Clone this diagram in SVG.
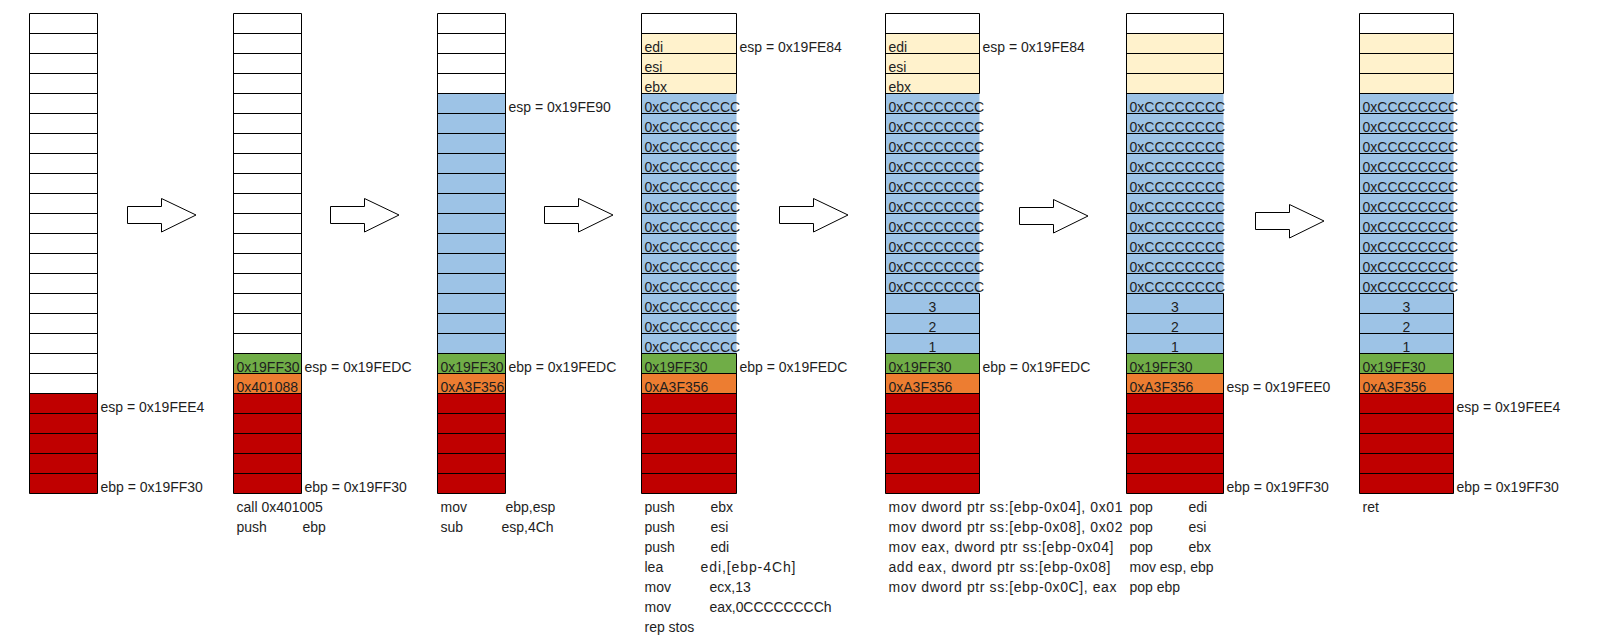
<svg xmlns="http://www.w3.org/2000/svg" xmlns:xlink="http://www.w3.org/1999/xlink" width="1602" height="641" viewBox="0 0 1602 641">
<style>
text{font-family:"Liberation Sans",Arial,sans-serif;font-size:14px;fill:#1e1e1e}
.c{text-anchor:middle}
.w{fill:#fff}.y{fill:#FFF2CC}.b{fill:#9DC3E6}.g{fill:#70AD47}.o{fill:#ED7D31}.r{fill:#C00000}
.grid{fill:none;stroke:#000;stroke-width:1}
.arrow{fill:#fff;stroke:#000;stroke-width:1}
</style>
<defs>
<path id="h68" d="M0 13.5h68M0 33.5h68M0 53.5h68M0 73.5h68M0 93.5h68M0 113.5h68M0 133.5h68M0 153.5h68M0 173.5h68M0 193.5h68M0 213.5h68M0 233.5h68M0 253.5h68M0 273.5h68M0 293.5h68M0 313.5h68M0 333.5h68M0 353.5h68M0 373.5h68M0 393.5h68M0 413.5h68M0 433.5h68M0 453.5h68M0 473.5h68M0 493.5h68"/>
<path id="h95" d="M0 13.5h95M0 33.5h95M0 53.5h95M0 73.5h95M0 93.5h95M0 113.5h95M0 133.5h95M0 153.5h95M0 173.5h95M0 193.5h95M0 213.5h95M0 233.5h95M0 253.5h95M0 273.5h95M0 293.5h95M0 313.5h95M0 333.5h95M0 353.5h95M0 373.5h95M0 393.5h95M0 413.5h95M0 433.5h95M0 453.5h95M0 473.5h95M0 493.5h95"/>
<path id="h94" d="M0 13.5h94M0 33.5h94M0 53.5h94M0 73.5h94M0 93.5h94M0 113.5h94M0 133.5h94M0 153.5h94M0 173.5h94M0 193.5h94M0 213.5h94M0 233.5h94M0 253.5h94M0 273.5h94M0 293.5h94M0 313.5h94M0 333.5h94M0 353.5h94M0 373.5h94M0 393.5h94M0 413.5h94M0 433.5h94M0 453.5h94M0 473.5h94M0 493.5h94"/>
<path id="h97" d="M0 13.5h97M0 33.5h97M0 53.5h97M0 73.5h97M0 93.5h97M0 113.5h97M0 133.5h97M0 153.5h97M0 173.5h97M0 193.5h97M0 213.5h97M0 233.5h97M0 253.5h97M0 273.5h97M0 293.5h97M0 313.5h97M0 333.5h97M0 353.5h97M0 373.5h97M0 393.5h97M0 413.5h97M0 433.5h97M0 453.5h97M0 473.5h97M0 493.5h97"/>
<path id="arr" d="M0.5 8.5H34.5V0.5L69 17L34.5 34V25.5H0.5Z"/>
</defs>
<rect width="1602" height="641" fill="#fff"/>

<g id="stack1">
<rect class="w" x="29.5" y="13.5" width="68" height="380"/>
<rect class="r" x="29.5" y="393.5" width="68" height="100"/>
<use href="#h68" x="29.5" class="grid"/>
<path class="grid" d="M29.5 13.5V493.5M97.5 13.5V493.5"/>
<text x="100.5" y="411.5">esp = 0x19FEE4</text>
<text x="100.5" y="491.5">ebp = 0x19FF30</text>
</g>

<g id="stack2">
<rect class="w" x="233.5" y="13.5" width="68" height="340"/>
<rect class="g" x="233.5" y="353.5" width="68" height="20"/>
<rect class="o" x="233.5" y="373.5" width="68" height="20"/>
<rect class="r" x="233.5" y="393.5" width="68" height="100"/>
<use href="#h68" x="233.5" class="grid"/>
<path class="grid" d="M233.5 13.5V493.5M301.5 13.5V493.5"/>
<text x="236.5" y="371.5">0x19FF30</text>
<text x="236.5" y="391.5">0x401088</text>
<text x="304.5" y="371.5">esp = 0x19FEDC</text>
<text x="304.5" y="491.5">ebp = 0x19FF30</text>
<text x="236.5" y="511.5">call 0x401005</text>
<text x="236.5" y="531.5">push</text><text x="302.5" y="531.5">ebp</text>
</g>

<g id="stack3">
<rect class="w" x="437.5" y="13.5" width="68" height="80"/>
<rect class="b" x="437.5" y="93.5" width="68" height="260"/>
<rect class="g" x="437.5" y="353.5" width="68" height="20"/>
<rect class="o" x="437.5" y="373.5" width="68" height="20"/>
<rect class="r" x="437.5" y="393.5" width="68" height="100"/>
<use href="#h68" x="437.5" class="grid"/>
<path class="grid" d="M437.5 13.5V493.5M505.5 13.5V493.5"/>
<text x="440.5" y="371.5">0x19FF30</text>
<text x="440.5" y="391.5">0xA3F356</text>
<text x="508.5" y="111.5">esp = 0x19FE90</text>
<text x="508.5" y="371.5">ebp = 0x19FEDC</text>
<text x="440.5" y="511.5">mov</text><text x="505.5" y="511.5">ebp,esp</text>
<text x="440.5" y="531.5">sub</text><text x="501.5" y="531.5">esp,4Ch</text>
</g>

<g id="stack4">
<rect class="w" x="641.5" y="13.5" width="95" height="20"/>
<rect class="y" x="641.5" y="33.5" width="95" height="60"/>
<rect class="b" x="641.5" y="93.5" width="95" height="260"/>
<rect class="g" x="641.5" y="353.5" width="95" height="20"/>
<rect class="o" x="641.5" y="373.5" width="95" height="20"/>
<rect class="r" x="641.5" y="393.5" width="95" height="100"/>
<use href="#h95" x="641.5" class="grid"/>
<path class="grid" d="M641.5 13.5V493.5M736.5 13.5V93.5M736.5 353.5V493.5"/>
<text x="644.5" y="51.5">edi</text>
<text x="644.5" y="71.5">esi</text>
<text x="644.5" y="91.5">ebx</text>
<text x="644.5" y="111.5">0xCCCCCCCC</text>
<text x="644.5" y="131.5">0xCCCCCCCC</text>
<text x="644.5" y="151.5">0xCCCCCCCC</text>
<text x="644.5" y="171.5">0xCCCCCCCC</text>
<text x="644.5" y="191.5">0xCCCCCCCC</text>
<text x="644.5" y="211.5">0xCCCCCCCC</text>
<text x="644.5" y="231.5">0xCCCCCCCC</text>
<text x="644.5" y="251.5">0xCCCCCCCC</text>
<text x="644.5" y="271.5">0xCCCCCCCC</text>
<text x="644.5" y="291.5">0xCCCCCCCC</text>
<text x="644.5" y="311.5">0xCCCCCCCC</text>
<text x="644.5" y="331.5">0xCCCCCCCC</text>
<text x="644.5" y="351.5">0xCCCCCCCC</text>
<text x="644.5" y="371.5">0x19FF30</text>
<text x="644.5" y="391.5">0xA3F356</text>
<text x="739.5" y="51.5">esp = 0x19FE84</text>
<text x="739.5" y="371.5">ebp = 0x19FEDC</text>
<text x="644.5" y="511.5">push</text><text x="710.5" y="511.5">ebx</text>
<text x="644.5" y="531.5">push</text><text x="710.5" y="531.5">esi</text>
<text x="644.5" y="551.5">push</text><text x="710.5" y="551.5">edi</text>
<text x="644.5" y="571.5">lea</text><text x="700.5" y="571.5" textLength="95" lengthAdjust="spacing">edi,[ebp-4Ch]</text>
<text x="644.5" y="591.5">mov</text><text x="709.5" y="591.5">ecx,13</text>
<text x="644.5" y="611.5">mov</text><text x="709.5" y="611.5" textLength="122" lengthAdjust="spacing">eax,0CCCCCCCCh</text>
<text x="644.5" y="631.5">rep stos</text>
</g>

<g id="stack5">
<rect class="w" x="885.5" y="13.5" width="94" height="20"/>
<rect class="y" x="885.5" y="33.5" width="94" height="60"/>
<rect class="b" x="885.5" y="93.5" width="94" height="260"/>
<rect class="g" x="885.5" y="353.5" width="94" height="20"/>
<rect class="o" x="885.5" y="373.5" width="94" height="20"/>
<rect class="r" x="885.5" y="393.5" width="94" height="100"/>
<use href="#h94" x="885.5" class="grid"/>
<path class="grid" d="M885.5 13.5V493.5M979.5 13.5V93.5M979.5 293.5V493.5"/>
<text x="888.5" y="51.5">edi</text>
<text x="888.5" y="71.5">esi</text>
<text x="888.5" y="91.5">ebx</text>
<text x="888.5" y="111.5">0xCCCCCCCC</text>
<text x="888.5" y="131.5">0xCCCCCCCC</text>
<text x="888.5" y="151.5">0xCCCCCCCC</text>
<text x="888.5" y="171.5">0xCCCCCCCC</text>
<text x="888.5" y="191.5">0xCCCCCCCC</text>
<text x="888.5" y="211.5">0xCCCCCCCC</text>
<text x="888.5" y="231.5">0xCCCCCCCC</text>
<text x="888.5" y="251.5">0xCCCCCCCC</text>
<text x="888.5" y="271.5">0xCCCCCCCC</text>
<text x="888.5" y="291.5">0xCCCCCCCC</text>
<text class="c" x="932.5" y="311.5">3</text>
<text class="c" x="932.5" y="331.5">2</text>
<text class="c" x="932.5" y="351.5">1</text>
<text x="888.5" y="371.5">0x19FF30</text>
<text x="888.5" y="391.5">0xA3F356</text>
<text x="982.5" y="51.5">esp = 0x19FE84</text>
<text x="982.5" y="371.5">ebp = 0x19FEDC</text>
<text x="888.5" y="511.5" textLength="234" lengthAdjust="spacing">mov dword ptr ss:[ebp-0x04], 0x01</text>
<text x="888.5" y="531.5" textLength="234" lengthAdjust="spacing">mov dword ptr ss:[ebp-0x08], 0x02</text>
<text x="888.5" y="551.5" textLength="225" lengthAdjust="spacing">mov eax, dword ptr ss:[ebp-0x04]</text>
<text x="888.5" y="571.5" textLength="222" lengthAdjust="spacing">add eax, dword ptr ss:[ebp-0x08]</text>
<text x="888.5" y="591.5" textLength="228" lengthAdjust="spacing">mov dword ptr ss:[ebp-0x0C], eax</text>
</g>

<g id="stack6">
<rect class="w" x="1126.5" y="13.5" width="97" height="20"/>
<rect class="y" x="1126.5" y="33.5" width="97" height="60"/>
<rect class="b" x="1126.5" y="93.5" width="97" height="260"/>
<rect class="g" x="1126.5" y="353.5" width="97" height="20"/>
<rect class="o" x="1126.5" y="373.5" width="97" height="20"/>
<rect class="r" x="1126.5" y="393.5" width="97" height="100"/>
<use href="#h97" x="1126.5" class="grid"/>
<path class="grid" d="M1126.5 13.5V493.5M1223.5 13.5V93.5M1223.5 293.5V493.5"/>
<text x="1129.5" y="111.5">0xCCCCCCCC</text>
<text x="1129.5" y="131.5">0xCCCCCCCC</text>
<text x="1129.5" y="151.5">0xCCCCCCCC</text>
<text x="1129.5" y="171.5">0xCCCCCCCC</text>
<text x="1129.5" y="191.5">0xCCCCCCCC</text>
<text x="1129.5" y="211.5">0xCCCCCCCC</text>
<text x="1129.5" y="231.5">0xCCCCCCCC</text>
<text x="1129.5" y="251.5">0xCCCCCCCC</text>
<text x="1129.5" y="271.5">0xCCCCCCCC</text>
<text x="1129.5" y="291.5">0xCCCCCCCC</text>
<text class="c" x="1175" y="311.5">3</text>
<text class="c" x="1175" y="331.5">2</text>
<text class="c" x="1175" y="351.5">1</text>
<text x="1129.5" y="371.5">0x19FF30</text>
<text x="1129.5" y="391.5">0xA3F356</text>
<text x="1226.5" y="391.5">esp = 0x19FEE0</text>
<text x="1226.5" y="491.5">ebp = 0x19FF30</text>
<text x="1129.5" y="511.5">pop</text><text x="1188.5" y="511.5">edi</text>
<text x="1129.5" y="531.5">pop</text><text x="1188.5" y="531.5">esi</text>
<text x="1129.5" y="551.5">pop</text><text x="1188.5" y="551.5">ebx</text>
<text x="1129.5" y="571.5">mov esp, ebp</text>
<text x="1129.5" y="591.5">pop ebp</text>
</g>

<g id="stack7">
<rect class="w" x="1359.5" y="13.5" width="94" height="20"/>
<rect class="y" x="1359.5" y="33.5" width="94" height="60"/>
<rect class="b" x="1359.5" y="93.5" width="94" height="260"/>
<rect class="g" x="1359.5" y="353.5" width="94" height="20"/>
<rect class="o" x="1359.5" y="373.5" width="94" height="20"/>
<rect class="r" x="1359.5" y="393.5" width="94" height="100"/>
<use href="#h94" x="1359.5" class="grid"/>
<path class="grid" d="M1359.5 13.5V493.5M1453.5 13.5V93.5M1453.5 293.5V493.5"/>
<text x="1362.5" y="111.5">0xCCCCCCCC</text>
<text x="1362.5" y="131.5">0xCCCCCCCC</text>
<text x="1362.5" y="151.5">0xCCCCCCCC</text>
<text x="1362.5" y="171.5">0xCCCCCCCC</text>
<text x="1362.5" y="191.5">0xCCCCCCCC</text>
<text x="1362.5" y="211.5">0xCCCCCCCC</text>
<text x="1362.5" y="231.5">0xCCCCCCCC</text>
<text x="1362.5" y="251.5">0xCCCCCCCC</text>
<text x="1362.5" y="271.5">0xCCCCCCCC</text>
<text x="1362.5" y="291.5">0xCCCCCCCC</text>
<text class="c" x="1406.5" y="311.5">3</text>
<text class="c" x="1406.5" y="331.5">2</text>
<text class="c" x="1406.5" y="351.5">1</text>
<text x="1362.5" y="371.5">0x19FF30</text>
<text x="1362.5" y="391.5">0xA3F356</text>
<text x="1456.5" y="411.5">esp = 0x19FEE4</text>
<text x="1456.5" y="491.5">ebp = 0x19FF30</text>
<text x="1362.5" y="511.5">ret</text>
</g>

<g id="connectors">
<use href="#arr" class="arrow" x="127" y="198"/>
<use href="#arr" class="arrow" x="330" y="198"/>
<use href="#arr" class="arrow" x="544" y="198"/>
<use href="#arr" class="arrow" x="779" y="198"/>
<use href="#arr" class="arrow" x="1019" y="199"/>
<use href="#arr" class="arrow" x="1255" y="204"/>
</g>
</svg>
